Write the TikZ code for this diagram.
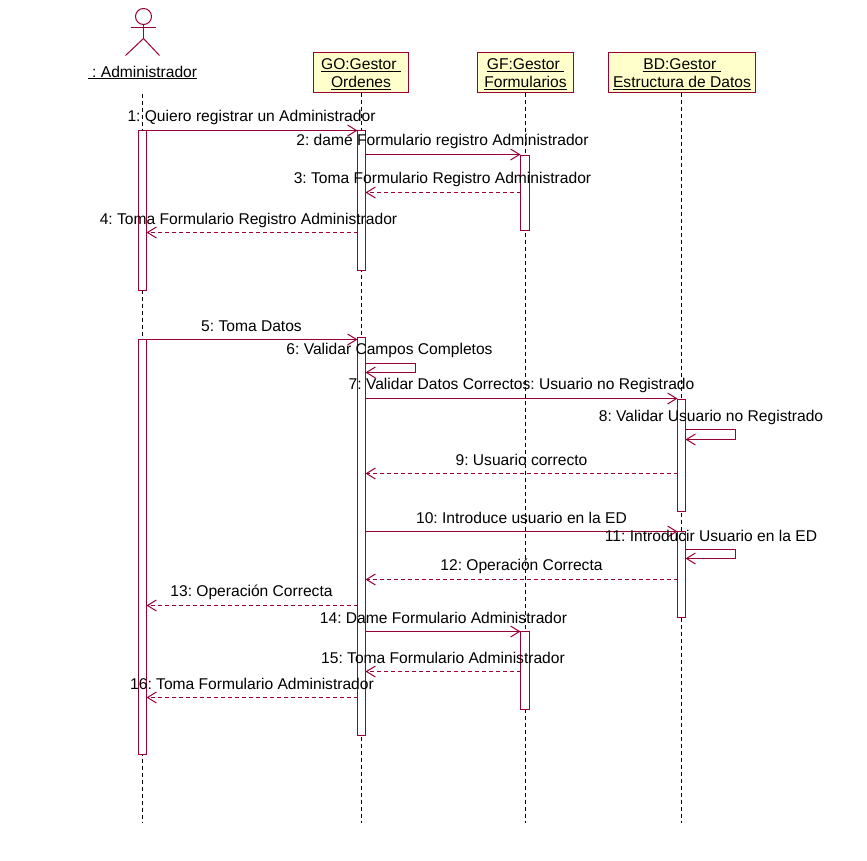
\documentclass[tikz,border=0pt]{standalone}
\usepackage{fontspec}
\setmainfont{Liberation Sans}
\usetikzlibrary{arrows.meta}
\definecolor{rosered}{RGB}{153,0,51}
\definecolor{boxyellow}{RGB}{255,255,204}
\frenchspacing
\newcommand{\boxtop}{\rule{0pt}{14.3pt}}
\tikzset{
	classbox/.style={draw=rosered, fill=boxyellow, line width=1pt, inner sep=0pt, outer sep=0pt, align=center, font=\fontsize{15.6}{18}\selectfont, minimum height=40pt},
	activ/.style={draw=rosered, fill=white, line width=1pt, inner sep=0pt, outer sep=0pt, minimum width=8pt},
	lifeline/.style={black, line width=1pt, dash pattern=on 4pt off 3pt},
	call/.style={rosered, line width=1pt, -{Straight Barb[length=9pt,width=11pt]}},
	reply/.style={call, dash pattern=on 4pt off 3pt},
	msgtext/.style={inner sep=0pt, font=\fontsize{15.6}{18}\selectfont}
}
\begin{document}
\begin{tikzpicture}[x=1pt, y=-1pt]
	\useasboundingbox (-0.5,-0.5) rectangle (866.5,859.5);

	%%%%% heads %%%%%
	\draw[rosered, line width=1pt] (143,16) circle (8);
	\draw[rosered, line width=1pt] (143,24) -- (143,38) (130,27) -- (155,27);
	\draw[rosered, line width=1pt] (125,55) -- (143,38) -- (159,55);
	\node[msgtext] (admin) at (142,72) {\underline{\ :\ Administrador}};
	\node[classbox, minimum width=95pt] (go) at (360.5,72) {\boxtop\underline{GO:Gestor\ }\\\underline{Ordenes}};
	\node[classbox, minimum width=96pt] (gf) at (525,72) {\boxtop\underline{GF:Gestor\ }\\\underline{Formularios}};
	\node[classbox, minimum width=147pt] (bd) at (681.5,72) {\boxtop\underline{BD:Gestor\ }\\\underline{Estructura de Datos}};

	%%%%% lifelines %%%%%
	\coordinate (adtop) at (142,93);
	\coordinate (adend) at (142,822);
	\coordinate (golife) at (361,92);
	\coordinate (bdlife) at (681,92);
	\draw[lifeline] (adtop) -- (adend);
	\draw[lifeline] (golife) -- (golife |- adend);
	\draw[lifeline] (gf.south) -- (gf.south |- adend);
	\draw[lifeline] (bdlife) -- (bdlife |- adend);

	%%%%% activations %%%%%
	\node[activ, minimum height=160pt] (ad1) at (142,210) {};
	\node[activ, minimum height=415pt] (ad2) at (142,546.5) {};
	\node[activ, minimum height=140pt] (go1) at (361,200) {};
	\node[activ, minimum height=398pt] (go2) at (361,536) {};
	\node[activ, minimum width=9pt, minimum height=75pt] (gf1) at (524.5,192.5) {};
	\node[activ, minimum width=9pt, minimum height=78pt] (gf2) at (524.5,670) {};
	\node[activ, minimum height=112pt] (bd1) at (681,455) {};
	\node[activ, minimum height=86pt] (bd2) at (681,574) {};

	%%%%% levels of the messages %%%%%
	\foreach \n/\y in {1/130,2/154,3/192,4/232,5/339,6/363,7/398,8/429,9/473,10/531,11/549,12/579,13/605,14/631,15/671,16/697}
		\coordinate (y\n) at (0,\y);
	\coordinate (self6) at (415,0);
	\coordinate (self8) at (735,0);

	%%%%% messages %%%%%
	\draw[call] (ad1.east |- y1) -- (go1.west |- y1);
	\draw[call] (go1.east |- y2) -- (gf1.west |- y2);
	\draw[reply] (gf1.west |- y3) -- (go1.east |- y3);
	\draw[reply] (go1.west |- y4) -- (ad1.east |- y4);
	\draw[call] (ad2.east |- y5) -- (go2.west |- y5);
	\draw[call] (go2.east |- y6) -- (self6 |- y6) -- ++(0,9) -- ++(-50,0);
	\draw[call] (go2.east |- y7) -- (bd1.west |- y7);
	\draw[call] (bd1.east |- y8) -- (self8 |- y8) -- ++(0,10) -- ++(-50,0);
	\draw[reply] (bd1.west |- y9) -- (go2.east |- y9);
	\draw[call] (go2.east |- y10) -- (bd2.west |- y10);
	\draw[call] (bd2.east |- y11) -- (self8 |- y11) -- ++(0,9) -- ++(-50,0);
	\draw[reply] (bd2.west |- y12) -- (go2.east |- y12);
	\draw[reply] (go2.west |- y13) -- (ad2.east |- y13);
	\draw[call] (go2.east |- y14) -- (gf2.west |- y14);
	\draw[reply] (gf2.west |- y15) -- (go2.east |- y15);
	\draw[reply] (go2.west |- y16) -- (ad2.east |- y16);

	%%%%% texts %%%%%
	\node[msgtext] (m1) at (251,116.5) {1: Quiero registrar un Administrador};
	\node[msgtext] (m2) at (442,140.5) {2: dame Formulario registro Administrador};
	\node[msgtext] (m3) at (442,178.5) {3: Toma Formulario Registro Administrador};
	\node[msgtext] (m4) at (248,219.5) {4: Toma Formulario Registro Administrador};
	\node[msgtext] (m5) at (251,325.5) {5: Toma Datos};
	\node[msgtext] (m6) at (389,349.5) {6: Validar Campos Completos};
	\node[msgtext] (m7) at (521,384.5) {7: Validar Datos Correctos: Usuario no Registrado};
	\node[msgtext] (m8) at (710.5,416.5) {8: Validar Usuario no Registrado};
	\node[msgtext] (m9) at (521,459) {9: Usuario correcto};
	\node[msgtext] (m10) at (521,517.5) {10: Introduce usuario en la ED};
	\node[msgtext] (m11) at (710.5,535.5) {11: Introducir Usuario en la ED};
	\node[msgtext] (m12) at (521,565.5) {12: Operación Correcta};
	\node[msgtext] (m13) at (251,591.5) {13: Operación Correcta};
	\node[msgtext] (m14) at (443,617.5) {14: Dame Formulario Administrador};
	\node[msgtext] (m15) at (442.5,657.5) {15: Toma Formulario Administrador};
	\node[msgtext] (m16) at (251.5,683.5) {16: Toma Formulario Administrador};
\end{tikzpicture}
\end{document}
